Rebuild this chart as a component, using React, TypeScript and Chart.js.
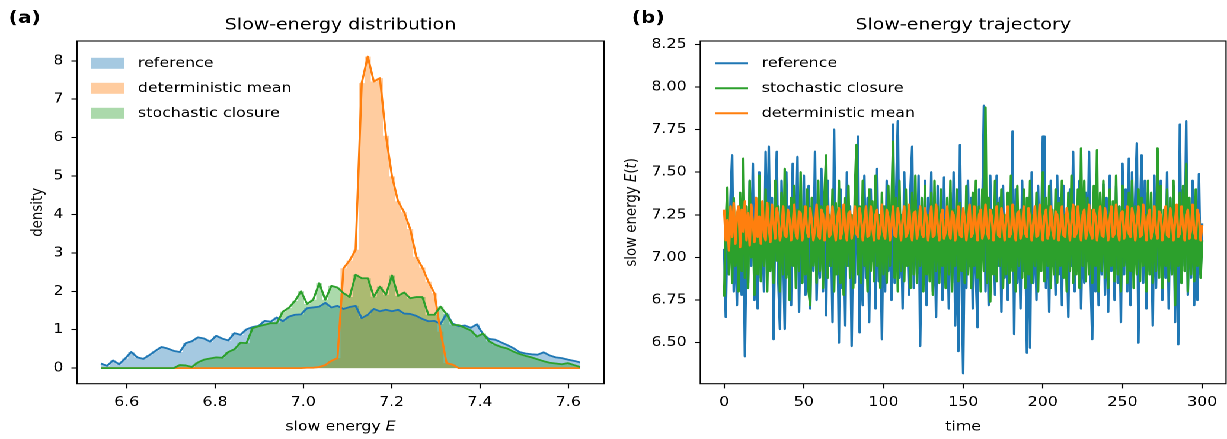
import React, { useEffect, useRef } from "react";
import { Chart, registerables } from "chart.js";

Chart.register(...registerables);

// ---------------- data: panel (a) histogram densities ----------------
const E_FIRST = 6.5416; // centre of first bin
const E_BIN = 0.013735; // bin width

const densityReference = [
  0.12, 0.06, 0.2, 0.1, 0.25, 0.42, 0.28, 0.24, 0.34, 0.45,
  0.55, 0.51, 0.45, 0.42, 0.65, 0.7, 0.8, 0.77, 0.69, 0.84,
  0.77, 0.72, 0.91, 0.87, 1.01, 1.07, 1.1, 1.23, 1.21, 1.32,
  1.22, 1.34, 1.39, 1.4, 1.56, 1.58, 1.6, 1.7, 1.58, 1.62,
  1.54, 1.59, 1.62, 1.3, 1.39, 1.54, 1.48, 1.52, 1.48, 1.52,
  1.42, 1.41, 1.36, 1.28, 1.22, 1.23, 1.15, 1.42, 1.16, 1.09,
  1.11, 1.05, 1.14, 0.88, 0.76, 0.74, 0.67, 0.6, 0.52, 0.42,
  0.38, 0.36, 0.35, 0.41, 0.33, 0.28, 0.26, 0.22, 0.19, 0.15,
];

const densityDeterministic = [
  0, 0, 0, 0, 0, 0, 0, 0, 0, 0,
  0, 0, 0, 0, 0, 0, 0, 0, 0, 0,
  0, 0, 0, 0, 0, 0, 0, 0, 0, 0,
  0, 0, 0, 0, 0.01, 0.01, 0.03, 0.08, 0.19, 0.26,
  2.6, 2.8, 3.08, 7.42, 8.11, 7.46, 7.55, 6.05, 4.99, 4.34,
  4.06, 3.62, 2.9, 2.62, 2.25, 1.95, 0.95, 0.13, 0.09, 0,
  0, 0, 0, 0, 0, 0, 0, 0, 0, 0,
  0, 0, 0, 0, 0, 0, 0, 0, 0, 0,
];

const densityStochastic = [
  0, 0, 0, 0, 0, 0, 0, 0, 0, 0,
  0, 0, 0, 0.08, 0.07, 0.03, 0.15, 0.22, 0.25, 0.28,
  0.27, 0.42, 0.49, 0.66, 0.65, 1.04, 1.09, 1.13, 1.17, 1.17,
  1.47, 1.57, 1.75, 2.0, 1.67, 1.78, 2.21, 1.78, 2.14, 2.1,
  1.95, 1.85, 2.43, 2.34, 2.34, 1.86, 2.12, 1.91, 2.41, 1.88,
  1.97, 1.82, 1.85, 1.85, 1.39, 1.39, 1.6, 1.4, 1.13, 1.12,
  1.05, 0.98, 0.82, 0.9, 0.7, 0.61, 0.55, 0.51, 0.43, 0.37,
  0.32, 0.28, 0.23, 0.18, 0.14, 0.12, 0.1, 0.13, 0.08, 0.03,
];

const energyTicks = [6.6, 6.8, 7.0, 7.2, 7.4, 7.6];
const densityTicks = [0, 1, 2, 3, 4, 5, 6, 7, 8];

// ---------------- data: panel (b) trajectories ----------------
const TIME_STEP = 1;
const timeTicks = [0, 50, 100, 150, 200, 250, 300];
const trajTicks = [6.5, 6.75, 7.0, 7.25, 7.5, 7.75, 8.0, 8.25];

const trajReference = [
  7.05, 6.65, 7.2, 6.9, 7.35, 7.6, 6.8, 7.15, 6.72, 7.3,
  7.02, 6.78, 7.4, 6.42, 7.1, 6.85, 7.45, 6.95, 7.55, 6.75,
  7.25, 6.7, 7.5, 6.88, 7.15, 6.8, 7.62, 6.92, 7.65, 6.98,
  7.35, 6.52, 7.2, 7.62, 6.85, 6.58, 7.45, 7.05, 6.58, 7.5,
  6.9, 7.3, 6.72, 7.55, 6.95, 7.1, 7.59, 6.68, 7.25, 6.85,
  7.48, 6.78, 7.05, 7.42, 6.7, 7.3, 6.92, 7.62, 6.75, 7.18,
  6.88, 7.52, 6.8, 7.35, 6.66, 7.45, 6.95, 7.2, 6.62, 7.75,
  6.9, 7.28, 6.5, 7.4, 6.82, 7.15, 6.6, 7.5, 6.95, 7.3,
  6.48, 7.22, 6.85, 7.45, 7.71, 6.56, 7.1, 6.72, 7.48, 6.88,
  7.35, 6.62, 7.4, 6.98, 7.25, 6.7, 7.52, 6.86, 7.15, 6.52,
  7.3, 6.8, 7.45, 6.92, 7.2, 6.75, 7.78, 6.85, 7.4, 7.8,
  6.88, 7.25, 6.7, 7.5, 6.95, 7.15, 6.78, 7.42, 7.65, 6.82,
  7.3, 6.9, 7.48, 6.48, 7.1, 6.85, 7.45, 6.72, 7.35, 6.95,
  7.5, 6.8, 7.2, 6.65, 7.42, 6.92, 7.3, 6.75, 7.47, 6.88,
  7.25, 6.7, 7.38, 6.85, 7.5, 6.6, 7.15, 6.45, 7.66, 6.9,
  6.32, 7.2, 6.82, 7.45, 6.95, 7.35, 6.7, 7.28, 6.88, 6.59,
  7.4, 6.9, 7.25, 7.89, 6.8, 7.3, 6.72, 7.48, 6.92, 7.2,
  6.78, 7.48, 6.95, 7.35, 6.68, 7.42, 6.88, 7.15, 6.75, 7.3,
  6.95, 7.74, 6.55, 7.4, 6.85, 7.2, 6.7, 7.45, 6.92, 7.1,
  6.44, 7.35, 6.47, 7.5, 6.85, 7.25, 6.75, 7.42, 6.98, 7.15,
  7.71, 7.71, 6.82, 7.3, 6.68, 7.45, 6.95, 7.2, 6.78, 7.48,
  6.9, 7.35, 6.72, 7.42, 6.88, 7.15, 6.65, 7.4, 6.95, 7.62,
  6.8, 7.28, 6.92, 7.45, 6.7, 7.2, 6.85, 7.38, 6.98, 7.62,
  6.88, 6.52, 7.3, 6.8, 7.45, 6.72, 7.25, 6.9, 7.43, 6.78,
  7.35, 6.68, 7.48, 6.92, 7.2, 6.75, 7.42, 6.85, 7.3, 6.62,
  7.55, 6.9, 7.4, 6.8, 7.58, 6.72, 7.5, 6.95, 7.35, 7.67,
  6.5, 7.25, 7.6, 6.85, 7.45, 6.7, 7.38, 6.92, 7.2, 6.6,
  7.48, 6.82, 7.3, 6.95, 7.45, 6.75, 7.22, 6.88, 7.5, 6.7,
  7.35, 6.9, 7.42, 6.62, 7.28, 6.49, 7.78, 6.85, 7.4, 6.95,
  7.8, 6.78, 7.3, 6.88, 7.45, 6.72, 7.25, 6.75, 7.49, 6.9,
  7.2,
];

const trajStochastic = [
  6.77, 7.2, 7.41, 6.9, 7.3, 6.85, 7.35, 6.95, 7.25, 6.8,
  7.38, 6.92, 7.58, 6.88, 7.3, 6.82, 7.45, 7.0, 7.22, 6.78,
  7.35, 6.9, 7.48, 6.86, 7.25, 6.95, 7.4, 6.8, 7.32, 6.92,
  7.2, 6.85, 7.45, 6.98, 7.3, 6.8, 7.38, 6.9, 7.52, 6.88,
  7.25, 6.75, 7.35, 6.95, 7.42, 6.82, 7.28, 6.92, 7.5, 6.85,
  7.3, 6.9, 7.4, 6.8, 6.72, 7.35, 6.95, 7.22, 6.85, 7.45,
  6.92, 7.3, 6.82, 7.38, 7.6, 6.88, 7.25, 6.95, 7.4, 6.8,
  7.32, 6.9, 7.45, 6.85, 7.28, 6.78, 7.35, 6.95, 7.42, 6.88,
  7.25, 6.82, 7.38, 7.66, 6.9, 7.3, 6.85, 7.45, 6.95, 7.2,
  6.8, 7.4, 6.92, 7.33, 6.86, 7.48, 6.95, 7.25, 6.82, 7.38,
  6.9, 7.3, 6.85, 7.42, 6.95, 7.28, 7.68, 6.88, 7.35, 6.8,
  7.45, 6.92, 7.25, 6.86, 7.4, 6.95, 7.3, 6.82, 7.38, 6.9,
  7.48, 6.85, 7.28, 6.95, 7.35, 6.8, 7.42, 6.9, 7.25, 6.86,
  7.38, 6.78, 7.45, 6.92, 7.3, 6.85, 7.4, 6.95, 7.22, 6.82,
  7.35, 6.9, 7.45, 6.8, 7.28, 6.95, 7.4, 6.86, 7.32, 6.92,
  7.25, 6.85, 7.42, 6.9, 7.3, 6.82, 7.38, 6.95, 7.45, 6.88,
  7.3, 6.8, 7.4, 6.92, 7.88, 6.85, 7.35, 6.74, 7.28, 6.9,
  7.45, 6.86, 7.32, 6.95, 7.4, 6.82, 7.25, 6.9, 7.38, 6.85,
  7.48, 6.92, 7.3, 6.8, 7.42, 6.95, 7.28, 6.88, 7.4, 6.82,
  7.35, 6.9, 7.45, 6.85, 7.25, 6.95, 7.38, 6.8, 7.3, 6.92,
  7.5, 6.86, 7.35, 6.95, 7.42, 6.82, 7.28, 6.9, 7.4, 6.85,
  7.32, 6.95, 7.45, 6.88, 7.25, 6.8, 7.38, 6.92, 7.48, 6.85,
  7.3, 6.9, 7.4, 6.82, 7.64, 6.95, 7.45, 6.86, 7.35, 6.9,
  7.28, 6.85, 7.42, 6.95, 7.63, 6.8, 7.38, 6.92, 7.45, 6.88,
  7.25, 6.82, 7.4, 6.95, 7.33, 6.86, 7.48, 6.9, 7.3, 6.8,
  7.42, 6.95, 7.28, 6.85, 7.38, 6.92, 7.45, 6.82, 7.3, 6.9,
  7.4, 6.86, 7.35, 6.95, 7.25, 6.8, 7.45, 6.9, 7.38, 6.85,
  7.3, 6.92, 7.64, 6.88, 7.42, 6.82, 7.28, 6.95, 7.4, 6.86,
  7.35, 6.9, 7.45, 6.72, 7.3, 6.95, 7.38, 6.85, 7.42, 6.92,
  7.55, 6.8, 7.35, 6.9, 7.28, 6.86, 7.4, 6.95, 7.25, 6.88,
  7.1,
];

const trajDeterministic = [
  7.28, 7.1, 7.22, 7.04, 7.3, 7.12, 7.32, 7.08, 7.25, 7.3,
  7.06, 7.28, 7.15, 7.33, 7.1, 7.26, 7.07, 7.31, 7.2, 7.09,
  7.35, 7.12, 7.24, 7.08, 7.33, 7.14, 7.1, 7.32, 7.18, 7.09,
  7.31, 7.2, 7.11, 7.29, 7.24, 7.1, 7.16, 7.3, 7.13, 7.12,
  7.28, 7.22, 7.1, 7.19, 7.31, 7.14, 7.11, 7.27, 7.26, 7.1,
  7.18, 7.3, 7.15, 7.12, 7.29, 7.21, 7.1, 7.17, 7.31, 7.13,
  7.11, 7.28, 7.25, 7.1, 7.2, 7.3, 7.12, 7.14, 7.3, 7.19,
  7.1, 7.23, 7.29, 7.11, 7.15, 7.31, 7.16, 7.1, 7.26, 7.27,
  7.11, 7.18, 7.3, 7.14, 7.12, 7.29, 7.22, 7.1, 7.21, 7.3,
  7.12, 7.13, 7.3, 7.18, 7.1, 7.25, 7.28, 7.11, 7.16, 7.31,
  7.15, 7.11, 7.28, 7.24, 7.1, 7.19, 7.3, 7.13, 7.12, 7.29,
  7.21, 7.1, 7.22, 7.3, 7.12, 7.14, 7.31, 7.17, 7.1, 7.26,
  7.27, 7.11, 7.17, 7.3, 7.14, 7.12, 7.29, 7.23, 7.1, 7.2,
  7.3, 7.12, 7.13, 7.31, 7.19, 7.1, 7.24, 7.28, 7.11, 7.15,
  7.3, 7.16, 7.11, 7.27, 7.25, 7.1, 7.18, 7.3, 7.13, 7.12,
  7.29, 7.22, 7.1, 7.21, 7.31, 7.12, 7.14, 7.3, 7.18, 7.1,
  7.25, 7.28, 7.11, 7.16, 7.31, 7.15, 7.11, 7.28, 7.24, 7.1,
  7.19, 7.3, 7.13, 7.12, 7.29, 7.21, 7.1, 7.22, 7.3, 7.12,
  7.14, 7.31, 7.17, 7.1, 7.26, 7.27, 7.11, 7.17, 7.3, 7.14,
  7.12, 7.29, 7.23, 7.1, 7.2, 7.3, 7.12, 7.13, 7.31, 7.19,
  7.1, 7.24, 7.28, 7.11, 7.15, 7.3, 7.16, 7.11, 7.27, 7.25,
  7.1, 7.18, 7.3, 7.13, 7.12, 7.29, 7.22, 7.1, 7.21, 7.31,
  7.12, 7.14, 7.3, 7.18, 7.1, 7.25, 7.28, 7.11, 7.16, 7.31,
  7.15, 7.11, 7.28, 7.24, 7.1, 7.19, 7.3, 7.13, 7.12, 7.29,
  7.21, 7.1, 7.22, 7.3, 7.12, 7.14, 7.31, 7.17, 7.1, 7.26,
  7.27, 7.11, 7.17, 7.3, 7.14, 7.12, 7.29, 7.23, 7.1, 7.2,
  7.3, 7.12, 7.13, 7.31, 7.19, 7.1, 7.24, 7.28, 7.11, 7.15,
  7.3, 7.16, 7.11, 7.27, 7.25, 7.1, 7.18, 7.3, 7.13, 7.12,
  7.29, 7.22, 7.1, 7.21, 7.31, 7.12, 7.14, 7.3, 7.18, 7.1,
  7.25, 7.28, 7.11, 7.16, 7.31, 7.15, 7.11, 7.28, 7.24, 7.1,
  7.19,
];

// ---------------- layout / style ----------------
const LOGICAL_W = 1035;
const SX = 1227 / LOGICAL_W; // horizontal stretch of the reference picture
const H = 439;
const LEFT_W = 520;
const RIGHT_W = LOGICAL_W - LEFT_W;
const FONT = "'DejaVu Sans', 'Liberation Sans', sans-serif";
const FS = 13.33;
const BLUE = "#1f77b4";
const ORANGE = "#ff7f0e";
const GREEN = "#2ca02c";
const ALPHA = 0.4;

function rgba(hex: string, a: number) {
  const n = parseInt(hex.slice(1), 16);
  return `rgba(${(n >> 16) & 255},${(n >> 8) & 255},${n & 255},${a})`;
}

type Part = { t: string; it?: boolean };

function drawParts(ctx: CanvasRenderingContext2D, parts: Part[], size: number, cx: number, baseY: number) {
  const fonts = parts.map((p) => `${p.it ? "italic " : ""}${size}px ${FONT}`);
  const widths = parts.map((p, i) => {
    ctx.font = fonts[i];
    return ctx.measureText(p.t).width;
  });
  const total = widths.reduce((s, w) => s + w, 0);
  let x = cx - total / 2;
  ctx.textAlign = "left";
  ctx.textBaseline = "alphabetic";
  parts.forEach((p, i) => {
    ctx.font = fonts[i];
    ctx.fillText(p.t, x, baseY);
    x += widths[i];
  });
}

type LegendItem = { label: string; color: string; kind: "patch" | "line" };

function decorPlugin(cfg: {
  panel: string;
  panelX: number;
  title: string;
  xlabel: Part[];
  ylabel: Part[];
  ylabelX: number;
  legend: LegendItem[];
  handleX: number;
  handleW: number;
  textX: number;
}) {
  return {
    id: "decor",
    afterDraw(chart: any) {
      const ctx: CanvasRenderingContext2D = chart.ctx;
      const a = chart.chartArea;
      ctx.save();
      ctx.strokeStyle = "#000";
      ctx.lineWidth = 1.07;
      ctx.strokeRect(a.left, a.top, a.right - a.left, a.bottom - a.top);
      ctx.fillStyle = "#000";
      ctx.font = `bold 17px ${FONT}`;
      ctx.textAlign = "left";
      ctx.textBaseline = "alphabetic";
      ctx.fillText(cfg.panel, cfg.panelX, 23);
      ctx.font = `16px ${FONT}`;
      ctx.textAlign = "center";
      ctx.fillText(cfg.title, (a.left + a.right) / 2, 29.3);
      drawParts(ctx, cfg.xlabel, FS, (a.left + a.right) / 2, 430.5);
      ctx.save();
      ctx.translate(cfg.ylabelX, (a.top + a.bottom) / 2);
      ctx.rotate(-Math.PI / 2);
      drawParts(ctx, cfg.ylabel, FS, 0, 0);
      ctx.restore();
      const rows = [63.3, 88.3, 113.3];
      cfg.legend.forEach((it, i) => {
        const y = rows[i];
        if (it.kind === "patch") {
          ctx.fillStyle = rgba(it.color, ALPHA);
          ctx.fillRect(cfg.handleX, y - 5.5, cfg.handleW, 11);
        } else {
          ctx.strokeStyle = it.color;
          ctx.lineWidth = 2;
          ctx.beginPath();
          ctx.moveTo(cfg.handleX, y);
          ctx.lineTo(cfg.handleX + cfg.handleW, y);
          ctx.stroke();
        }
        ctx.fillStyle = "#000";
        ctx.font = `${FS}px ${FONT}`;
        ctx.textAlign = "left";
        ctx.textBaseline = "middle";
        ctx.fillText(it.label, cfg.textX, y);
      });
      ctx.restore();
    },
  };
}

function axisCommon(tickValues: number[], fmt: (v: number) => string, pad: number) {
  return {
    type: "linear" as const,
    afterBuildTicks: (s: any) => {
      s.ticks = tickValues.map((v) => ({ value: v }));
    },
    ticks: {
      callback: (v: any) => fmt(Number(v)),
      font: { family: FONT, size: FS },
      color: "#000",
      padding: pad,
      autoSkip: false,
      maxRotation: 0,
      minRotation: 0,
    },
    grid: {
      display: true,
      drawOnChartArea: false,
      drawTicks: true,
      tickLength: 4.7,
      tickColor: "#000",
      tickWidth: 1.07,
    },
    border: { display: false },
  };
}

function leftConfig(): any {
  const centers = densityReference.map((_, i) => E_FIRST + i * E_BIN);
  const pts = (arr: number[]) => arr.map((y, i) => ({ x: centers[i], y }));
  const fillDs = (arr: number[], color: string, order: number) => ({
    data: pts(arr),
    borderWidth: 0,
    borderColor: "rgba(0,0,0,0)",
    backgroundColor: rgba(color, ALPHA),
    fill: "origin",
    stepped: "middle",
    pointRadius: 0,
    order,
  });
  const lineDs = (arr: number[], color: string, order: number) => ({
    data: pts(arr),
    borderWidth: 1.8,
    borderColor: color,
    borderJoinStyle: "round",
    fill: false,
    pointRadius: 0,
    order,
  });
  return {
    type: "line",
    data: {
      datasets: [
        fillDs(densityReference, BLUE, 6),
        fillDs(densityDeterministic, ORANGE, 5),
        fillDs(densityStochastic, GREEN, 4),
        lineDs(densityReference, BLUE, 3),
        lineDs(densityDeterministic, ORANGE, 2),
        lineDs(densityStochastic, GREEN, 1),
      ],
    },
    options: {
      responsive: false,
      animation: false,
      devicePixelRatio: 2,
      events: [],
      layout: { padding: { left: 0, top: 41, right: LEFT_W - 509.5, bottom: 0 } },
      plugins: { legend: { display: false }, tooltip: { enabled: false }, title: { display: false } },
      scales: {
        x: {
          ...axisCommon(energyTicks, (v) => v.toFixed(1), 6),
          min: 6.4874,
          max: 7.681,
          afterFit: (s: any) => {
            s.height = H - 383.7;
          },
        },
        y: {
          ...axisCommon(densityTicks, (v) => v.toFixed(0), 6.8),
          min: -0.4055,
          max: 8.5155,
          afterFit: (s: any) => {
            s.width = 64.95;
          },
        },
      },
    },
    plugins: [
      decorPlugin({
        panel: "(a)",
        panelX: 7.3,
        title: "Slow-energy distribution",
        xlabel: [{ t: "slow energy " }, { t: "E", it: true }],
        ylabel: [{ t: "density" }],
        ylabelX: 35.5,
        legend: [
          { label: "reference", color: BLUE, kind: "patch" },
          { label: "deterministic mean", color: ORANGE, kind: "patch" },
          { label: "stochastic closure", color: GREEN, kind: "patch" },
        ],
        handleX: 77,
        handleW: 28,
        textX: 116.4,
      }),
    ],
  };
}

function rightConfig(): any {
  const pts = (arr: number[]) => arr.map((y, i) => ({ x: i * TIME_STEP, y }));
  const ds = (arr: number[], color: string, order: number) => ({
    data: pts(arr),
    borderWidth: 2.1,
    borderColor: color,
    borderJoinStyle: "round",
    fill: false,
    pointRadius: 0,
    order,
  });
  return {
    type: "line",
    data: {
      datasets: [
        ds(trajReference, BLUE, 3),
        ds(trajStochastic, GREEN, 2),
        ds(trajDeterministic, ORANGE, 1),
      ],
    },
    options: {
      responsive: false,
      animation: false,
      devicePixelRatio: 2,
      events: [],
      layout: { padding: { left: 0, top: 41, right: RIGHT_W - 514.2, bottom: 0 } },
      plugins: { legend: { display: false }, tooltip: { enabled: false }, title: { display: false } },
      scales: {
        x: {
          ...axisCommon(timeTicks, (v) => v.toFixed(0), 6),
          min: -15,
          max: 315,
          afterFit: (s: any) => {
            s.height = H - 383.7;
          },
        },
        y: {
          ...axisCommon(trajTicks, (v) => v.toFixed(2), 6.8),
          min: 6.2595,
          max: 8.2694,
          afterFit: (s: any) => {
            s.width = 70.7;
          },
        },
      },
    },
    plugins: [
      decorPlugin({
        panel: "(b)",
        panelX: 12.9,
        title: "Slow-energy trajectory",
        xlabel: [{ t: "time" }],
        ylabel: [{ t: "slow energy " }, { t: "E", it: true }, { t: "(" }, { t: "t", it: true }, { t: ")" }],
        ylabelX: 16.4,
        legend: [
          { label: "reference", color: BLUE, kind: "line" },
          { label: "stochastic closure", color: GREEN, kind: "line" },
          { label: "deterministic mean", color: ORANGE, kind: "line" },
        ],
        handleX: 83,
        handleW: 28,
        textX: 122.5,
      }),
    ],
  };
}

export default function App() {
  const leftRef = useRef<HTMLCanvasElement | null>(null);
  const rightRef = useRef<HTMLCanvasElement | null>(null);

  useEffect(() => {
    if (!leftRef.current || !rightRef.current) return;
    const c1 = new Chart(leftRef.current, leftConfig());
    const c2 = new Chart(rightRef.current, rightConfig());
    return () => {
      c1.destroy();
      c2.destroy();
    };
  }, []);

  return (
    <div
      style={{
        position: "fixed",
        left: 0,
        top: 0,
        width: 1227,
        height: H,
        overflow: "hidden",
        background: "#fff",
      }}
    >
      <div
        style={{
          position: "absolute",
          left: 0,
          top: 0,
          width: LOGICAL_W,
          height: H,
          transform: `scaleX(${SX})`,
          transformOrigin: "0 0",
        }}
      >
        <canvas
          ref={leftRef}
          width={LEFT_W}
          height={H}
          style={{ position: "absolute", left: 0, top: 0, width: LEFT_W, height: H }}
        />
        <canvas
          ref={rightRef}
          width={RIGHT_W}
          height={H}
          style={{ position: "absolute", left: LEFT_W, top: 0, width: RIGHT_W, height: H }}
        />
      </div>
    </div>
  );
}
